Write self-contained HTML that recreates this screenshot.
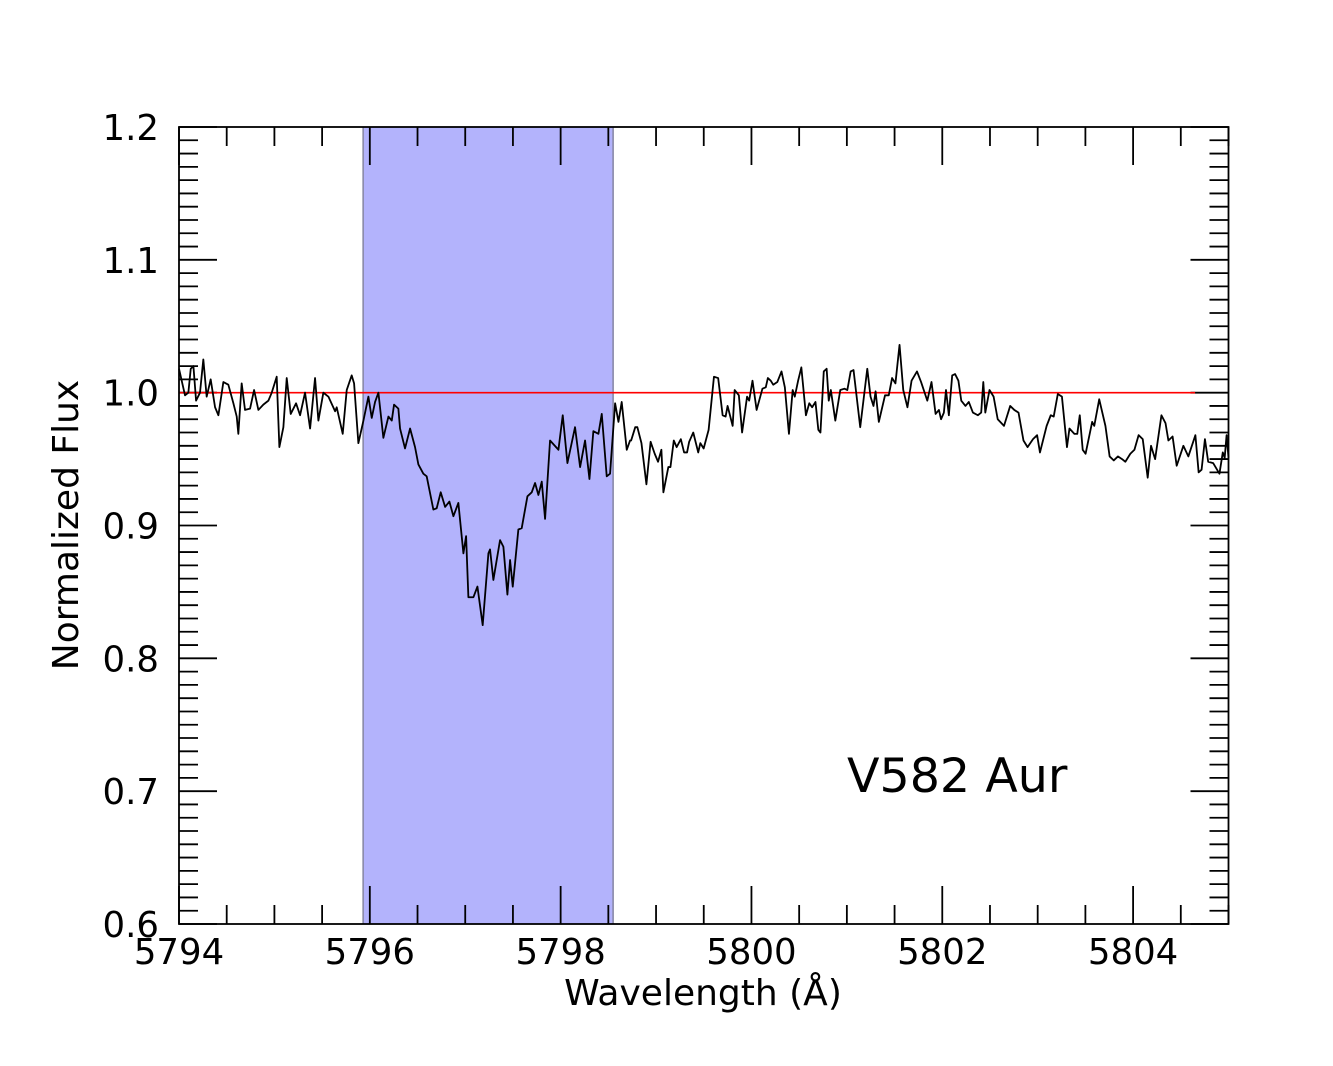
<!DOCTYPE html>
<html><head><meta charset="utf-8"><style>
html,body{margin:0;padding:0;background:#fff;}
svg{display:block;font-family:"DejaVu Sans","Liberation Sans",sans-serif;}
</style></head><body>
<svg id="chart" width="1333" height="1066" viewBox="0 0 1333 1066" xmlns="http://www.w3.org/2000/svg">
<rect x="0" y="0" width="1333" height="1066" fill="#fff"/>
<g id="band"></g>
<g id="ticks"></g>
<line id="cont" stroke="#ff0000" stroke-width="1.6"/>
<path id="spec" fill="none" stroke="#000" stroke-width="1.8" stroke-linejoin="round"/>
<rect x="179" y="127" width="1049.5" height="797" fill="none" stroke="#000" stroke-width="1.8"/>
<g id="labels" font-size="35.5" fill="#000"></g>
<text x="703" y="1005" font-size="36" text-anchor="middle">Wavelength (Å)</text>
<text x="78" y="525" font-size="36" text-anchor="middle" transform="rotate(-90 78 525)">Normalized Flux</text>
<text x="847" y="792" font-size="47.5">V582 Aur</text>
</svg>
<script>
const LAMBDA0 = 5794;
const xTickLabels = ["5794","5796","5798","5800","5802","5804"];
const xTickValues = [5794,5796,5798,5800,5802,5804];
const yTickLabels = ["0.6","0.7","0.8","0.9","1.0","1.1","1.2"];
const yTickValues = [0.6,0.7,0.8,0.9,1.0,1.1,1.2];
const bandRange = [5795.93, 5798.55];
const continuumLevel = 1.0;
const continuumEnd = 5804.65;
const waveOffset = [0.000,0.063,0.098,0.123,0.151,0.179,0.220,0.255,0.290,0.332,0.378,0.413,0.465,0.517,0.570,0.605,0.622,0.657,0.692,0.745,0.787,0.832,0.884,0.937,0.972,1.024,1.052,1.094,1.129,1.171,1.227,1.269,1.321,1.374,1.426,1.461,1.513,1.566,1.636,1.653,1.716,1.758,1.810,1.835,1.880,1.933,1.985,2.020,2.055,2.090,2.142,2.195,2.230,2.254,2.299,2.317,2.369,2.422,2.474,2.509,2.561,2.596,2.666,2.701,2.743,2.789,2.834,2.876,2.928,2.981,3.009,3.033,3.086,3.128,3.183,3.243,3.260,3.295,3.365,3.400,3.442,3.470,3.498,3.557,3.592,3.652,3.697,3.732,3.767,3.802,3.837,3.889,3.977,4.022,4.071,4.151,4.204,4.256,4.302,4.343,4.396,4.431,4.483,4.518,4.571,4.606,4.640,4.693,4.728,4.739,4.782,4.804,4.847,4.899,4.943,4.986,5.021,5.056,5.077,5.129,5.151,5.186,5.216,5.260,5.294,5.325,5.347,5.390,5.442,5.464,5.499,5.551,5.607,5.651,5.698,5.729,5.750,5.803,5.824,5.868,5.902,5.954,5.976,6.011,6.054,6.115,6.150,6.172,6.202,6.228,6.271,6.315,6.350,6.393,6.432,6.454,6.489,6.523,6.571,6.606,6.636,6.671,6.701,6.723,6.758,6.788,6.810,6.832,6.879,6.931,6.975,7.005,7.040,7.070,7.140,7.214,7.248,7.279,7.301,7.335,7.400,7.439,7.474,7.509,7.552,7.591,7.635,7.678,7.735,7.778,7.843,7.887,7.930,7.965,7.987,8.017,8.039,8.069,8.104,8.134,8.169,8.199,8.243,8.278,8.321,8.373,8.408,8.430,8.451,8.495,8.538,8.581,8.647,8.712,8.755,8.799,8.851,8.894,8.951,8.994,9.024,9.094,9.137,9.168,9.211,9.254,9.307,9.333,9.385,9.415,9.441,9.472,9.502,9.571,9.593,9.645,9.710,9.754,9.797,9.841,9.884,9.919,9.971,10.014,10.058,10.101,10.153,10.188,10.231,10.297,10.340,10.370,10.414,10.457,10.527,10.579,10.653,10.687,10.718,10.753,10.787,10.839,10.905,10.940,10.960,10.980,11.000];
const flux = [1.018,0.998,1.000,1.018,1.020,0.994,1.000,1.025,0.997,1.010,0.989,0.983,1.008,1.006,0.992,0.982,0.969,1.007,0.987,0.988,1.002,0.987,0.991,0.994,1.000,1.012,0.959,0.974,1.011,0.984,0.992,0.983,1.000,0.973,1.011,0.979,1.000,0.997,0.986,0.989,0.969,1.002,1.013,1.007,0.962,0.979,0.997,0.981,0.993,1.000,0.966,0.982,0.979,0.991,0.988,0.973,0.958,0.973,0.959,0.946,0.939,0.937,0.912,0.913,0.925,0.914,0.918,0.907,0.917,0.879,0.892,0.846,0.846,0.854,0.825,0.879,0.882,0.859,0.889,0.884,0.848,0.874,0.854,0.897,0.898,0.922,0.925,0.932,0.923,0.933,0.905,0.964,0.957,0.983,0.947,0.974,0.944,0.964,0.935,0.971,0.969,0.984,0.937,0.939,0.992,0.978,0.993,0.957,0.964,0.964,0.974,0.974,0.962,0.931,0.963,0.954,0.948,0.957,0.925,0.944,0.944,0.964,0.959,0.965,0.955,0.955,0.963,0.970,0.955,0.962,0.958,0.972,1.012,1.011,0.983,0.982,0.990,0.975,1.002,0.998,0.970,0.997,0.994,1.009,0.987,1.003,1.004,1.011,1.009,1.006,1.008,1.016,1.004,0.969,1.002,0.997,1.009,1.019,0.983,0.992,0.989,0.993,0.972,0.970,1.016,1.018,0.994,1.002,0.979,1.002,1.003,1.002,1.016,1.017,0.974,1.018,0.997,0.990,1.001,0.978,0.998,0.998,1.011,1.007,1.036,1.002,0.989,1.009,1.016,1.008,0.994,1.008,0.984,0.987,0.980,0.985,1.002,0.983,1.013,1.014,1.009,0.994,0.990,0.993,0.985,0.983,0.985,1.008,0.985,1.002,0.997,0.980,0.975,0.990,0.987,0.985,0.964,0.959,0.965,0.968,0.955,0.975,0.983,0.982,0.999,0.997,0.959,0.973,0.969,0.969,0.983,0.957,0.954,0.978,0.975,0.995,0.975,0.952,0.949,0.952,0.950,0.948,0.954,0.957,0.968,0.965,0.936,0.960,0.950,0.983,0.977,0.964,0.967,0.945,0.960,0.952,0.968,0.940,0.942,0.965,0.948,0.947,0.939,0.955,0.951,0.968,0.951];

const X0=179, X1=1228.5, Y0=924, Y1=127;
const xMin=5794, xMax=5805, yMin=0.6, yMax=1.2;
function sx(v){return X0+(v-xMin)/(xMax-xMin)*(X1-X0);}
function sy(v){return Y0-(v-yMin)/(yMax-yMin)*(Y0-Y1);}
const NS="http://www.w3.org/2000/svg";
function mk(tag,attrs,parent){const e=document.createElementNS(NS,tag);for(const k in attrs)e.setAttribute(k,attrs[k]);parent.appendChild(e);return e;}

const band=document.getElementById('band');
const br=mk('rect',{x:sx(bandRange[0]),y:Y1,width:sx(bandRange[1])-sx(bandRange[0]),height:Y0-Y1,fill:'#b3b3fc'},band);


[bandRange[0],bandRange[1]].forEach(v=>{
  const l=mk('line',{x1:sx(v),x2:sx(v),y1:Y1,y2:Y0,stroke:'#8a8aa8','stroke-width':1.6},band);
  
  
});

const tg=document.getElementById('ticks');
for(let i=0;i<=22;i++){
  const v=xMin+i*0.5, x=sx(v), major=(i%4===0);
  const len=major?38:19;
  const t1=mk('line',{x1:x,x2:x,y1:Y0,y2:Y0-len,stroke:'#000','stroke-width':1.8},tg);
  
  
  const t2=mk('line',{x1:x,x2:x,y1:Y1,y2:Y1+len,stroke:'#000','stroke-width':1.8},tg);
  
  
}
for(let i=0;i<=60;i++){
  const v=yMin+i*0.01, y=sy(v), major=(i%10===0);
  const len=major?38:19;
  const t1=mk('line',{x1:X0,x2:X0+len,y1:y,y2:y,stroke:'#000','stroke-width':1.8},tg);
  
  
  const t2=mk('line',{x1:X1,x2:X1-len,y1:y,y2:y,stroke:'#000','stroke-width':1.8},tg);
  
  
}

const lg=document.getElementById('labels');
xTickValues.forEach((v,i)=>{
  const t=mk('text',{x:sx(v),y:964,'text-anchor':'middle'},lg);
  t.textContent=xTickLabels[i];
  
  
});
yTickValues.forEach((v,i)=>{
  const t=mk('text',{x:159,y:sy(v)+13,'text-anchor':'end'},lg);
  t.textContent=yTickLabels[i];
  
  
});

const c=document.getElementById('cont');
c.setAttribute('x1',sx(xMin));c.setAttribute('x2',sx(continuumEnd));
c.setAttribute('y1',sy(continuumLevel));c.setAttribute('y2',sy(continuumLevel));

let d='';
for(let i=0;i<flux.length;i++){
  d+=(i?'L':'M')+sx(LAMBDA0+waveOffset[i]).toFixed(2)+' '+sy(flux[i]).toFixed(2);
}
document.getElementById('spec').setAttribute('d',d);
</script>
</body></html>
